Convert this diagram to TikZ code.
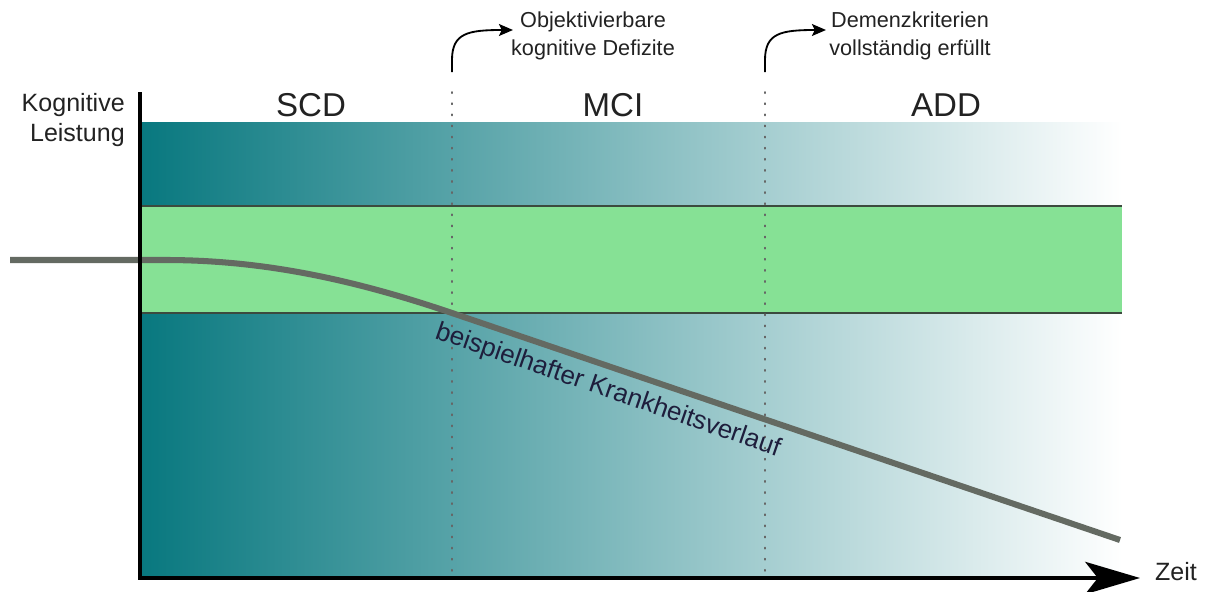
\documentclass[tikz,border=0pt]{standalone}
\usepackage{fontspec}
\setmainfont{Liberation Sans}
\usetikzlibrary{arrows.meta}
\definecolor{tealdark}{HTML}{08787F}
\definecolor{bandgreen}{HTML}{86E195}
\definecolor{bandedge}{HTML}{3C4A3E}
\definecolor{curvegray}{HTML}{646A62}
\definecolor{labelnavy}{HTML}{1E1E3C}
\definecolor{txt}{HTML}{222222}
\begin{document}
\begin{tikzpicture}[x=0.025cm,y=-0.025cm,
  axisline/.style={line width=2.2pt, black},
  dotline/.style={line width=1.1pt, gray!80!black, dash pattern=on 0.9pt off 7pt, line cap=round},
  bandline/.style={line width=1pt, bandedge},
  course/.style={line width=4.3pt, curvegray},
  zonelabel/.style={font=\fontsize{23.5}{28}\selectfont, text=txt, inner sep=0pt},
  notelabel/.style={font=\fontsize{15.4}{20}\selectfont, text=txt, align=center, inner sep=0pt},
  notearrow/.style={line width=1.3pt, black, -{Stealth[length=10pt,width=8.5pt,inset=2pt]}},
  axlabel/.style={font=\fontsize{17.8}{21.3}\selectfont, text=txt, inner sep=0pt}]
\useasboundingbox (0,0) rectangle (1205,592);
% background gradient
\shade[left color=tealdark, right color=white] (140,122) rectangle (1122,578);
% normal range band
\fill[bandgreen] (140,206) rectangle (1122,313);
\draw[bandline] (140,206) -- (1122,206);
\draw[bandline] (140,313) -- (1122,313);
% stage separators
\coordinate (d1t) at (452,92);
\coordinate (d1b) at (452,578);
\coordinate (d2t) at (765,92);
\coordinate (d2b) at (765,578);
\draw[dotline] (d1t) -- (d1b);
\draw[dotline] (d2t) -- (d2b);
% disease course
\coordinate (c0) at (10,260);
\coordinate (c1) at (165,260);
\coordinate (c2) at (452,313);
\coordinate (c3) at (1120,540);
\draw[course] (c0) -- (c1) .. controls (262,260) and (352,279) .. (c2) -- (c3);
\node[font=\fontsize{18.5}{22}\selectfont, text=labelnavy, rotate=-19, inner sep=0pt] (lab) at (608,391) {beispielhafter Krankheitsverlauf};
% axes
\coordinate (ytop) at (140,92);
\coordinate (orig) at (140,579.5);
\coordinate (xs) at (138,578);
\coordinate (xend) at (1140,578);
\draw[axisline] (ytop) -- (orig);
\draw[axisline, -{Stealth[length=39pt,width=23pt,inset=9pt]}] (xs) -- (xend);
\node[axlabel] (zeit) at (1176,572) {Zeit};
\node[axlabel, align=right, anchor=east] (kl) at (125,120) {Kognitive\\Leistung};
% stage labels
\node[zonelabel] (scd) at (311,105) {SCD};
\node[zonelabel] (mci) at (613,105) {MCI};
\node[zonelabel] (add) at (946,105) {ADD};
% notes
\node[notelabel] (n1) at (593,36) {Objektivierbare\\kognitive Defizite};
\node[notelabel] (n2) at (910,36) {Demenzkriterien\\vollständig erfüllt};
\coordinate (a1s) at (452,72);
\coordinate (a1e) at (513,30);
\coordinate (a2s) at (765,72);
\coordinate (a2e) at (826,30);
\draw[notearrow] (a1s) -- (452,60) .. controls (452,33) and (468,30) .. (a1e);
\draw[notearrow] (a2s) -- (765,60) .. controls (765,33) and (781,30) .. (a2e);
\end{tikzpicture}
\end{document}
